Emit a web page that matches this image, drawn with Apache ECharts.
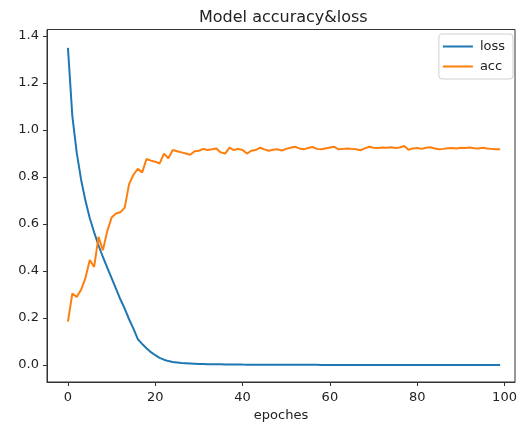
<!DOCTYPE html>
<html>
<head>
<meta charset="utf-8">
<script src="https://cdn.jsdelivr.net/npm/echarts@6/dist/echarts.min.js"></script>
<style>
html,body{margin:0;padding:0;background:#fff;}
#chart{width:521px;height:423px;}
</style>
</head>
<body>
<div id="chart"></div>
<script>
// epochs 0..99
const epochs = Array.from({length: 100}, (_, i) => i);

const loss = [
  1.35, 1.06, 0.905, 0.79, 0.70, 0.625, 0.565, 0.51, 0.46, 0.415,
  0.37, 0.325, 0.28, 0.24, 0.195, 0.155, 0.11, 0.09, 0.072, 0.055,
  0.042, 0.031, 0.023, 0.017, 0.013, 0.011, 0.009, 0.008, 0.007, 0.006,
  0.005, 0.0045, 0.004, 0.0037, 0.0034, 0.0031, 0.0028, 0.0026, 0.0024, 0.0022,
  0.002, 0.0019, 0.0018, 0.0017, 0.0016, 0.0015, 0.0014, 0.0013, 0.0012, 0.0012,
  0.0011, 0.0011, 0.001, 0.001, 0.001, 0.0009, 0.0009, 0.0009, 0.0008, 0.0008,
  0.0008, 0.0008, 0.0007, 0.0007, 0.0007, 0.0007, 0.0006, 0.0006, 0.0006, 0.0006,
  0.0006, 0.0005, 0.0005, 0.0005, 0.0005, 0.0005, 0.0005, 0.0004, 0.0004, 0.0004,
  0.0004, 0.0004, 0.0004, 0.0004, 0.0003, 0.0003, 0.0003, 0.0003, 0.0003, 0.0003,
  0.0003, 0.0003, 0.0003, 0.0003, 0.0002, 0.0002, 0.0002, 0.0002, 0.0002, 0.0002
];

const acc = [
  0.185, 0.305, 0.29, 0.32, 0.37, 0.447, 0.418, 0.546, 0.489, 0.57,
  0.628, 0.645, 0.65, 0.67, 0.77, 0.81, 0.835, 0.82, 0.877, 0.87,
  0.865, 0.858, 0.90, 0.88, 0.915, 0.91, 0.905, 0.90, 0.895, 0.91,
  0.912, 0.92, 0.915, 0.918, 0.922, 0.905, 0.90, 0.925, 0.915, 0.92,
  0.915, 0.90, 0.912, 0.915, 0.925, 0.918, 0.912, 0.916, 0.918, 0.913,
  0.92, 0.925, 0.929, 0.922, 0.918, 0.924, 0.928, 0.92, 0.918, 0.922,
  0.926, 0.929, 0.918, 0.92, 0.922, 0.92, 0.918, 0.914, 0.922, 0.929,
  0.925, 0.924, 0.926, 0.925, 0.927, 0.924, 0.926, 0.932, 0.916, 0.922,
  0.924, 0.92, 0.925, 0.927, 0.922, 0.918, 0.92, 0.923, 0.924, 0.922,
  0.925, 0.924, 0.926, 0.923, 0.922, 0.925, 0.922, 0.92, 0.918, 0.918
];

const xTicks = [0, 20, 40, 60, 80, 100];
const yTicks = [0.0, 0.2, 0.4, 0.6, 0.8, 1.0, 1.2, 1.4];

const seriesNames = ['loss', 'acc'];
const titleText = 'Model accuracy&loss';
const xName = 'epoches';

const FONT = 'DejaVu Sans';
const chart = echarts.init(document.getElementById('chart'), null, {renderer: 'canvas', width: 521, height: 423});

chart.setOption({
  backgroundColor: '#ffffff',
  animation: false,
  textStyle: {fontFamily: FONT},
  title: {
    text: titleText,
    left: 199,
    top: 10,
    padding: 0,
    textStyle: {fontFamily: FONT, fontSize: 16, fontWeight: 'normal', color: '#222'}
  },
  legend: {
    data: seriesNames,
    orient: 'vertical',
    right: 8,
    top: 34,
    icon: 'rect',
    itemWidth: 30,
    itemHeight: 2,
    itemGap: 7,
    padding: [6, 8, 6, 4],
    backgroundColor: 'rgba(255,255,255,0.8)',
    borderColor: '#d0d0d0',
    borderWidth: 1,
    borderRadius: 3,
    textStyle: {fontFamily: FONT, fontSize: 13, color: '#222', padding: [0, 0, 0, 2]}
  },
  grid: {
    left: 47, width: 468, top: 29.5, height: 352.5,
    show: true, borderColor: '#333', borderWidth: 1, backgroundColor: 'transparent',
    containLabel: false,
    outerBoundsMode: 'none'
  },
  xAxis: {
    type: 'value',
    min: -4.8,
    max: 102.4,
    name: xName,
    nameLocation: 'middle',
    nameGap: 23,
    nameTextStyle: {fontFamily: FONT, fontSize: 13, color: '#222'},
    axisLine: {show: true, onZero: false, lineStyle: {color: '#333', width: 1}},
    axisTick: {show: true, inside: false, length: 4, lineStyle: {color: '#333'}, customValues: xTicks},
    axisLabel: {show: true, margin: 9, fontFamily: FONT, fontSize: 13, color: '#222', customValues: xTicks,
      formatter: v => String(Math.round(v))},
    splitLine: {show: false}
  },
  yAxis: {
    type: 'value',
    min: -0.072,
    max: 1.428,
    axisLine: {show: true, onZero: false, lineStyle: {color: '#333', width: 1}},
    axisTick: {show: true, inside: false, length: 4, lineStyle: {color: '#333'}, customValues: yTicks},
    axisLabel: {show: true, margin: 8, fontFamily: FONT, fontSize: 13, color: '#222', customValues: yTicks,
      formatter: v => (Math.round(v * 10) / 10).toFixed(1)},
    splitLine: {show: false}
  },
  series: [
    {
      name: seriesNames[0], type: 'line', showSymbol: false, symbol: 'none',
      data: epochs.map((e, i) => [e, loss[i]]),
      lineStyle: {color: '#1f77b4', width: 2}, itemStyle: {color: '#1f77b4'}
    },
    {
      name: seriesNames[1], type: 'line', showSymbol: false, symbol: 'none',
      data: epochs.map((e, i) => [e, acc[i]]),
      lineStyle: {color: '#ff7f0e', width: 2}, itemStyle: {color: '#ff7f0e'}
    }
  ]
});
</script>
</body>
</html>
